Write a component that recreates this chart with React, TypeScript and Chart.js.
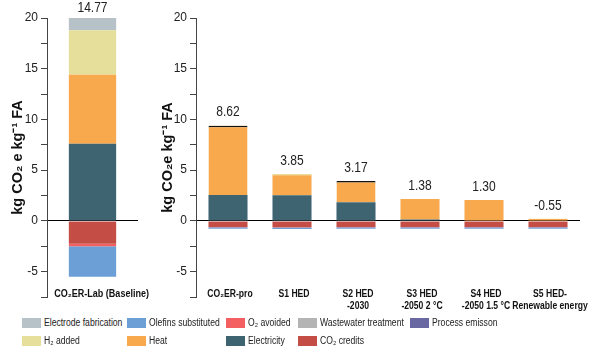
import React, { useEffect, useRef } from "react";
import { Chart, registerables } from "chart.js";

Chart.register(...registerables);

const FONT = "Arial, 'Liberation Sans', sans-serif";

// ---- Data ----
const baselineCategories = ["CO₂ER-Lab (Baseline)"];
const scenarioCategories: (string | string[])[] = [
  "CO₂ER-pro",
  "S1 HED",
  ["S2 HED", "-2030"],
  ["S3 HED", "-2050 2 °C"],
  ["S4 HED", "-2050 1.5 °C"],
  ["S5 HED-", "Renewable energy"],
];

// baseline values
const baseElectricity = [7.6];
const baseHeat = [6.8];
const baseH2 = [4.4];
const baseElectrode = [1.5];
const baseWastewater = [0];
const baseProcess = [0];
const baseCredits = [-2.25];
const baseO2 = [-0.25];
const baseOlefins = [-3.0];
const baseTotals = ["14.77"];

// scenario values
const scElectricity = [2.56, 2.53, 1.85, 0.15, 0.05, 0];
const scHeat = [6.83, 1.97, 2.09, 2.0, 2.0, 0.2];
const scH2 = [0.02, 0.12, 0, 0, 0, 0.02];
const scElectrode = [0, 0, 0, 0, 0, 0];
const scWastewater = [0, 0, 0, 0, 0, 0];
const scProcess = [0, 0, 0, 0, 0, 0];
const scCredits = [-0.6, -0.62, -0.6, -0.6, -0.6, -0.6];
const scO2 = [-0.02, -0.02, -0.02, -0.02, -0.02, -0.02];
const scOlefins = [-0.15, -0.15, -0.15, -0.15, -0.15, -0.15];
const scTotals = ["8.62", "3.85", "3.17", "1.38", "1.30", "-0.55"];
const scOutlinedTop = [true, false, true, false, false, false];

const yTicksMin = -7.5;
const yTicksMax = 20;
const yStep = 2.5;

// ---- Series styling ----
const SERIES = {
  electrode: { label: "Electrode fabrication", color: "#b7c1c8" },
  olefins: { label: "Olefins substituted", color: "#6b9fd5" },
  o2: { label: "O₂ avoided", color: "#f45f61" },
  wastewater: { label: "Wastewater treatment", color: "#b4b4b4" },
  process: { label: "Process emisson", color: "#6a68a3" },
  h2: { label: "H₂ added", color: "#e6df9b" },
  heat: { label: "Heat", color: "#f8a84d" },
  electricity: { label: "Electricity", color: "#3f6471" },
  credits: { label: "CO₂ credits", color: "#c44e45" },
};

const legendRows = [
  ["electrode", "olefins", "o2", "wastewater", "process"],
  ["h2", "heat", "electricity", "credits"],
];
const legendColumnX = [22, 127, 226, 298, 410];

const SQUEEZE = 0.86;

function buildDatasets(v: Record<string, number[]>, outlined?: boolean[]) {
  const order = [
    "electricity",
    "heat",
    "h2",
    "electrode",
    "wastewater",
    "process",
    "credits",
    "o2",
    "olefins",
  ];
  return order.map((k) => {
    const s = (SERIES as any)[k];
    const ds: any = {
      label: s.label,
      data: v[k],
      backgroundColor: s.color,
      borderWidth: 0,
      stack: "a",
    };
    if (k === "heat" && outlined) {
      ds.borderColor = "#111";
      ds.borderSkipped = false;
      ds.borderWidth = (ctx: any) =>
        outlined[ctx.dataIndex]
          ? { top: 1.5, left: 0, right: 0, bottom: 0 }
          : 0;
    }
    return ds;
  });
}

function squeezedText(ctx: any, text: string, x: number, y: number) {
  ctx.save();
  ctx.translate(x, y);
  ctx.scale(SQUEEZE, 1);
  ctx.fillText(text, 0, 0);
  ctx.restore();
}

const totalsPlugin = (totals: string[]) => ({
  id: "totals",
  afterDatasetsDraw(chart: any) {
    const { ctx, scales, chartArea } = chart;
    const ys = scales.y;
    const xs = scales.x;
    ctx.save();
    ctx.font = `14px ${FONT}`;
    ctx.fillStyle = "#222";
    ctx.textAlign = "center";
    ctx.textBaseline = "middle";
    totals.forEach((t, i) => {
      let pos = 0;
      chart.data.datasets.forEach((d: any) => {
        const v = d.data[i];
        if (v > 0) pos += v;
      });
      const top = Math.max(ys.getPixelForValue(pos), chartArea.top);
      const y = Math.max(top - 13, 8);
      squeezedText(ctx, t, xs.getPixelForValue(i), y);
    });
    ctx.restore();
  },
});

const xLabelsPlugin = (shift: number, size: number) => ({
  id: "xlabels",
  afterDraw(chart: any) {
    const { ctx, scales, chartArea } = chart;
    const xs = scales.x;
    ctx.save();
    ctx.font = `bold ${size}px ${FONT}`;
    ctx.fillStyle = "#111";
    ctx.textAlign = "center";
    ctx.textBaseline = "middle";
    (chart.data.labels as any[]).forEach((lab, i) => {
      const lines = Array.isArray(lab) ? lab : [lab];
      lines.forEach((ln: string, j: number) => {
        const w = ctx.measureText(ln).width * SQUEEZE;
        let cx = xs.getPixelForValue(i) + shift;
        cx = Math.min(cx, chart.width - 1 - w / 2);
        squeezedText(ctx, ln, cx, chartArea.bottom - 3 + j * 12);
      });
    });
    ctx.restore();
  },
});

function makeOptions(
  yWidth: number,
  xHeight: number,
  padRight: number,
  barPct: number
): any {
  return {
    responsive: false,
    animation: false,
    layout: { padding: { top: 18, right: padRight, left: 0, bottom: 0 } },
    plugins: { legend: { display: false }, tooltip: { enabled: false } },
    datasets: { bar: { barPercentage: barPct, categoryPercentage: 1 } },
    scales: {
      x: {
        stacked: true,
        grid: { display: false, drawTicks: false },
        border: { display: false },
        ticks: { display: false },
        afterFit: (s: any) => {
          s.height = xHeight;
        },
      },
      y: {
        stacked: true,
        min: yTicksMin,
        max: yTicksMax,
        z: 1,
        border: { display: true, color: "#444", width: 1 },
        grid: {
          drawOnChartArea: true,
          color: (c: any) =>
            c.tick && c.tick.value === 0 ? "#000" : "rgba(0,0,0,0)",
          tickColor: "#444",
          tickLength: 6,
          lineWidth: 1,
        },
        ticks: {
          stepSize: yStep,
          autoSkip: false,
          padding: 3,
          color: "#222",
          font: { family: FONT, size: 12 },
          callback: (v: any) => (Number(v) % 5 === 0 ? String(v) : ""),
        },
        title: {
          display: true,
          text: "",
          color: "#111",
          font: { family: FONT, size: 14.5, weight: "bold" },
          padding: { top: 9, bottom: 0 },
        },
        afterFit: (s: any) => {
          s.width = yWidth;
        },
      },
    },
  };
}

export default function App() {
  const leftRef = useRef<HTMLCanvasElement>(null);
  const rightRef = useRef<HTMLCanvasElement>(null);

  useEffect(() => {
    const lo = makeOptions(47, 13, 12, 0.52);
    lo.scales.y.title.text = "kg CO₂ e kg⁻¹ FA";
    const left = new Chart(leftRef.current!, {
      type: "bar",
      data: {
        labels: baselineCategories,
        datasets: buildDatasets({
          electricity: baseElectricity,
          heat: baseHeat,
          h2: baseH2,
          electrode: baseElectrode,
          wastewater: baseWastewater,
          process: baseProcess,
          credits: baseCredits,
          o2: baseO2,
          olefins: baseOlefins,
        }),
      },
      options: lo,
      plugins: [totalsPlugin(baseTotals), xLabelsPlugin(11, 10.5)],
    });

    const ro = makeOptions(46, 23, 20, 0.61);
    ro.scales.y.title.text = "kg CO₂e kg⁻¹ FA";
    const right = new Chart(rightRef.current!, {
      type: "bar",
      data: {
        labels: scenarioCategories as any,
        datasets: buildDatasets(
          {
            electricity: scElectricity,
            heat: scHeat,
            h2: scH2,
            electrode: scElectrode,
            wastewater: scWastewater,
            process: scProcess,
            credits: scCredits,
            o2: scO2,
            olefins: scOlefins,
          },
          scOutlinedTop
        ),
      },
      options: ro,
      plugins: [totalsPlugin(scTotals), xLabelsPlugin(2, 10)],
    });

    return () => {
      left.destroy();
      right.destroy();
    };
  }, []);

  return (
    <div
      style={{
        position: "absolute",
        left: 0,
        top: 0,
        width: 600,
        height: 354,
        background: "#fff",
        fontFamily: FONT,
      }}
    >
      <canvas
        ref={leftRef}
        width={150}
        height={310}
        style={{ position: "absolute", left: 0, top: 0 }}
      />
      <canvas
        ref={rightRef}
        width={450}
        height={320}
        style={{ position: "absolute", left: 150, top: 0 }}
      />
      {legendRows.map((row, r) =>
        row.map((k, c) => {
          const s = (SERIES as any)[k];
          return (
            <div
              key={k}
              style={{
                position: "absolute",
                left: legendColumnX[c],
                top: 318 + r * 18,
                height: 10,
                display: "flex",
                alignItems: "center",
                whiteSpace: "nowrap",
                fontSize: 10,
                lineHeight: "10px",
                color: "#222",
              }}
            >
              <span
                style={{
                  display: "inline-block",
                  width: 19,
                  height: 10,
                  background: s.color,
                  marginRight: 3,
                  flex: "none",
                }}
              />
              <span
                style={{
                  display: "inline-block",
                  transform: `scaleX(${SQUEEZE})`,
                  transformOrigin: "left center",
                }}
              >
                {s.label}
              </span>
            </div>
          );
        })
      )}
    </div>
  );
}
